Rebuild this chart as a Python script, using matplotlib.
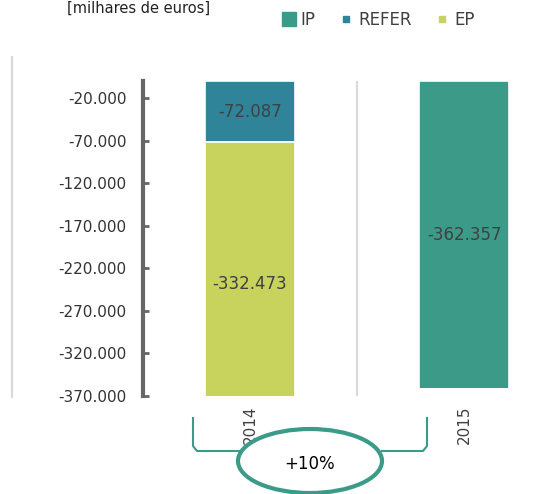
import matplotlib
matplotlib.use("Agg")
import matplotlib.pyplot as plt
import numpy as np
from matplotlib.lines import Line2D
from matplotlib.patches import Ellipse

# ---- data ----
years = ["2014", "2015"]
ip = [0, -362357]
refer = [-72087, 0]
ep = [-332473, 0]
series_names = ["IP", "REFER", "EP"]
yticks = [-20000, -70000, -120000, -170000, -220000, -270000, -320000, -370000]
unit_label = "[milhares de euros]"
change_label = "+10%"

colors = {"IP": "#3c9a88", "REFER": "#2f849a", "EP": "#c8d35e"}

def fmt(v):
    return f"{v:,.0f}".replace(",", ".")

plt.rcParams['font.family'] = ['DejaVu Sans']
W, H = 560, 494
fig = plt.figure(figsize=(W / 100, H / 100), dpi=100)

# axes in pixel coordinates (from top)
ax_left, ax_right, ax_top, ax_bottom = 143, 571, 81, 396
ax = fig.add_axes([ax_left / W, 1 - ax_bottom / H, (ax_right - ax_left) / W, (ax_bottom - ax_top) / H])

x = np.arange(len(years))
width = 0.42
data = {"IP": ip, "REFER": refer, "EP": ep}
bottom = np.zeros(len(years))
for name in series_names:
    vals = np.array(data[name], dtype=float)
    ax.bar(x, vals, width, bottom=bottom, color=colors[name], edgecolor="white",
           linewidth=1.2, label=name, zorder=3)
    for xi, b, v in zip(x, bottom, vals):
        if v != 0:
            ax.text(xi, b + v / 2, fmt(v), ha="center", va="center",
                    fontsize=12, color="#404040", zorder=4)
    bottom = bottom + vals

ax.set_xlim(-0.5, 1.5)
ax.set_ylim(-370000, 0)
ax.set_yticks(yticks)
ax.set_yticklabels([fmt(t) for t in yticks])
ax.set_xticks(x)
ax.set_xticklabels(years, rotation=90)

for s in ["top", "right", "bottom"]:
    ax.spines[s].set_visible(False)
ax.spines["left"].set_color("#666666")
ax.spines["left"].set_linewidth(3)
ax.tick_params(axis="y", direction="in", length=4, width=2, color="#666666",
               labelsize=11, labelcolor="#333333", pad=12)
ax.tick_params(axis="x", length=0, labelsize=11, labelcolor="#404040", pad=7)

# category separator
ax.axvline(0.5, color="#d9d9d9", linewidth=1.5, zorder=1)

# left light line
fig.add_artist(Line2D([12 / W, 12 / W], [1 - 57 / H, 1 - 397 / H], color="#d9d9d9",
                      linewidth=1.5, transform=fig.transFigure))

# unit label (near the top edge)
fig.text(139 / W, 1 - 8 / H, unit_label, ha="center", va="center", fontsize=10.5, color="#222222")

# legend
handles = [
    Line2D([], [], marker="s", linestyle="none", markersize=10, color=colors["IP"]),
    Line2D([], [], marker="s", linestyle="none", markersize=4.5, color=colors["REFER"]),
    Line2D([], [], marker="s", linestyle="none", markersize=4.5, color=colors["EP"]),
]
leg = fig.legend(handles, series_names, loc="center", bbox_to_anchor=(377 / W, 1 - 20 / H),
                 ncol=3, frameon=False, fontsize=12, handlelength=1.1, handletextpad=0.15,
                 columnspacing=1.3, labelcolor="#404040")

# bracket annotation
teal = "#3c9a88"
tr = fig.transFigure
def P(px, py):
    return (px / W, 1 - py / H)
lx = [P(193, 418)[0], P(193, 446)[0], P(197, 451)[0], P(240, 451)[0]]
ly = [P(193, 418)[1], P(193, 446)[1], P(197, 451)[1], P(240, 451)[1]]
fig.add_artist(Line2D(lx, ly, color=teal, linewidth=1.5, transform=tr))
rx = [P(382, 451)[0], P(423, 451)[0], P(427, 446)[0], P(427, 418)[0]]
ry = [P(382, 451)[1], P(423, 451)[1], P(427, 446)[1], P(427, 418)[1]]
fig.add_artist(Line2D(rx, ry, color=teal, linewidth=1.5, transform=tr))
cx, cy = P(310, 461)
fig.add_artist(Ellipse((cx, cy), 144 / W, 64 / H, transform=tr, facecolor="white",
                       edgecolor=teal, linewidth=3, zorder=5))
fig.text(cx, P(310, 464)[1], change_label, ha="center", va="center", fontsize=12,
         color="black", zorder=6)

fig.savefig("out.png", dpi=100)
